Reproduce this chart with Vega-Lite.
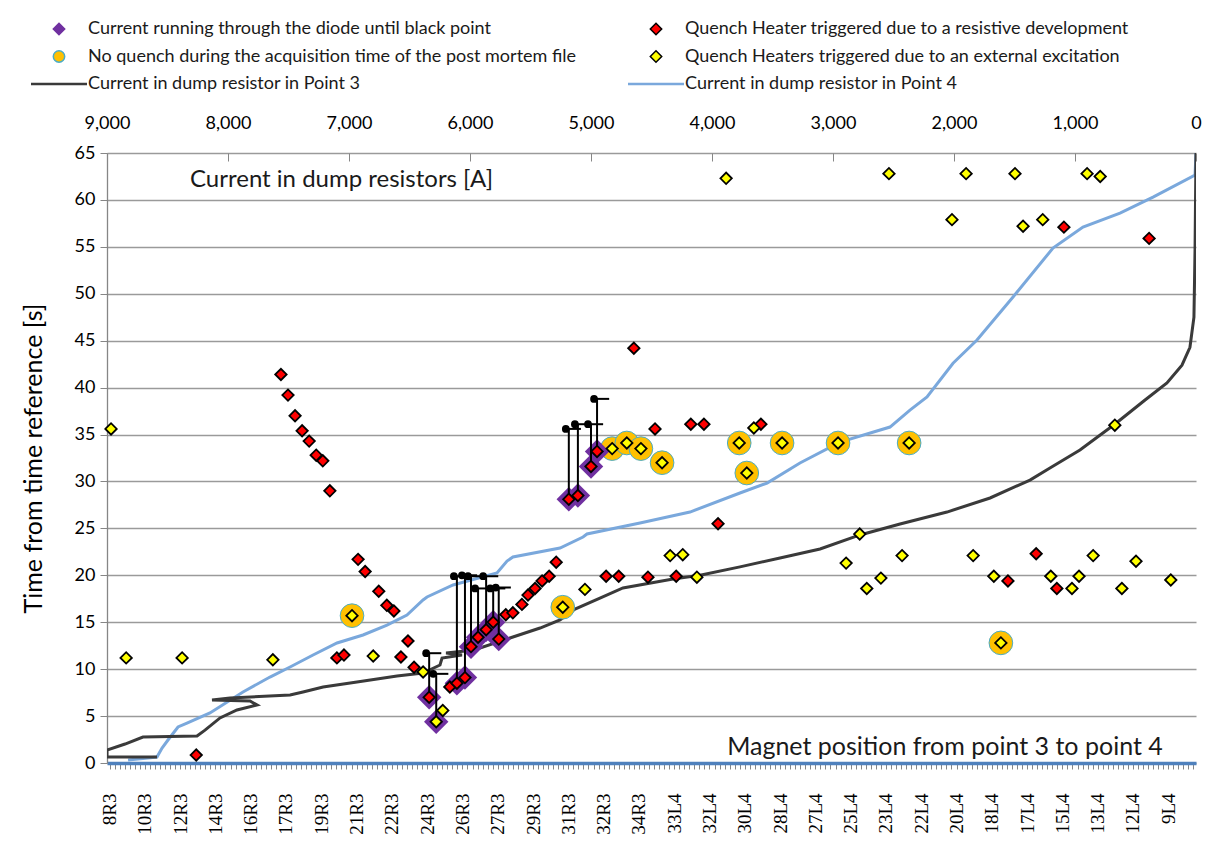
{
  "$schema": "https://vega.github.io/schema/vega-lite/v6.json",
  "width": 1089,
  "height": 610,
  "autosize": {"type": "none"},
  "padding": {"left": 107, "top": 153, "right": 19, "bottom": 87},
  "background": "white",
  "config": {
    "view": {"stroke": null},
    "font": "Lato",
    "axis": {"labelFont": "Lato", "titleFont": "Lato", "labelColor": "#000000", "titleColor": "#000000", "titleFontWeight": "normal"}
  },
  "datasets": {
    "p3": [
      {"i":1,"c":8587,"t":0.64},{"i":2,"c":9000,"t":0.64},{"i":3,"c":9000,"t":1.39},{"i":4,"c":8851,"t":2.02},
      {"i":5,"c":8703,"t":2.77},{"i":6,"c":8256,"t":2.88},{"i":7,"c":8190,"t":3.5},{"i":8,"c":8066,"t":4.8},
      {"i":9,"c":7926,"t":5.65},{"i":10,"c":7760,"t":6.18},{"i":11,"c":7818,"t":6.6},{"i":12,"c":8132,"t":6.71},
      {"i":13,"c":7983,"t":6.93},{"i":14,"c":7487,"t":7.25},{"i":15,"c":7380,"t":7.57},{"i":16,"c":7214,"t":8.1},
      {"i":17,"c":6934,"t":8.63},{"i":18,"c":6603,"t":9.27},{"i":19,"c":6388,"t":9.59},{"i":20,"c":6248,"t":10.44},
      {"i":21,"c":6231,"t":11.19},{"i":22,"c":6066,"t":11.5},{"i":23,"c":6198,"t":11.72},{"i":24,"c":6041,"t":11.93},
      {"i":25,"c":5917,"t":12.25},{"i":26,"c":5645,"t":13.43},{"i":27,"c":5421,"t":14.38},{"i":28,"c":5256,"t":15.24},
      {"i":29,"c":5132,"t":16.4},{"i":30,"c":4926,"t":17.58},{"i":31,"c":4736,"t":18.65},{"i":32,"c":4322,"t":19.6},
      {"i":33,"c":4099,"t":20.0},{"i":34,"c":3769,"t":20.9},{"i":35,"c":3438,"t":21.84},{"i":36,"c":3107,"t":22.8},
      {"i":37,"c":2777,"t":24.3},{"i":38,"c":2446,"t":25.47},{"i":39,"c":2058,"t":26.74},{"i":40,"c":1702,"t":28.24},
      {"i":41,"c":1372,"t":30.15},{"i":42,"c":1207,"t":31.43},{"i":43,"c":959,"t":33.35},{"i":44,"c":669,"t":36.12},
      {"i":45,"c":421,"t":38.68},{"i":46,"c":240,"t":40.5},{"i":47,"c":116,"t":42.4},{"i":48,"c":50,"t":44.3},
      {"i":49,"c":17,"t":47.5},{"i":50,"c":8,"t":54.7},{"i":51,"c":0,"t":65}
    ],
    "p4": [
      {"i":1,"c":8826,"t":0.32},{"i":2,"c":8587,"t":0.64},{"i":3,"c":8545,"t":1.6},{"i":4,"c":8496,"t":2.45},
      {"i":5,"c":8413,"t":3.84},{"i":6,"c":8339,"t":4.26},{"i":7,"c":8149,"t":5.33},{"i":8,"c":7876,"t":7.57},
      {"i":9,"c":7653,"t":9.16},{"i":10,"c":7487,"t":10.23},{"i":11,"c":7297,"t":11.51},{"i":12,"c":7099,"t":12.79},
      {"i":13,"c":6884,"t":13.64},{"i":14,"c":6686,"t":14.7},{"i":15,"c":6521,"t":15.77},{"i":16,"c":6388,"t":17.37},
      {"i":17,"c":6355,"t":17.69},{"i":18,"c":6140,"t":18.97},{"i":19,"c":5777,"t":20.25},{"i":20,"c":5694,"t":21.52},
      {"i":21,"c":5645,"t":21.95},{"i":22,"c":5256,"t":22.9},{"i":23,"c":5066,"t":24.08},{"i":24,"c":5033,"t":24.4},
      {"i":25,"c":4595,"t":25.57},{"i":26,"c":4182,"t":26.74},{"i":27,"c":3769,"t":28.77},{"i":28,"c":3545,"t":29.83},
      {"i":29,"c":3273,"t":31.97},{"i":30,"c":2942,"t":34.2},{"i":31,"c":2529,"t":35.8},{"i":32,"c":2364,"t":37.6},
      {"i":33,"c":2223,"t":39.0},{"i":34,"c":2008,"t":42.6},{"i":35,"c":1810,"t":45.07},{"i":36,"c":1512,"t":49.65},
      {"i":37,"c":1182,"t":54.87},{"i":38,"c":934,"t":57.1},{"i":39,"c":628,"t":58.6},{"i":40,"c":355,"t":60.3},
      {"i":41,"c":8,"t":62.65},{"i":42,"c":0,"t":65}
    ],
    "qh": [
      {"pos":17.2,"t":0.85,"s":"r"},{"pos":34.0,"t":41.4,"s":"r"},{"pos":35.4,"t":39.2,"s":"r"},{"pos":36.8,"t":37.0,"s":"r"},
      {"pos":38.2,"t":35.4,"s":"r"},{"pos":39.6,"t":34.3,"s":"r"},{"pos":41.0,"t":32.8,"s":"r"},{"pos":42.3,"t":32.2,"s":"r"},
      {"pos":43.7,"t":29.0,"s":"r"},{"pos":45.1,"t":11.2,"s":"r"},{"pos":46.5,"t":11.5,"s":"r"},{"pos":49.3,"t":21.7,"s":"r"},
      {"pos":50.7,"t":20.4,"s":"r"},{"pos":53.4,"t":18.3,"s":"r"},{"pos":55.0,"t":16.8,"s":"r"},{"pos":56.4,"t":16.2,"s":"r"},
      {"pos":57.8,"t":11.3,"s":"r"},{"pos":59.2,"t":13.0,"s":"r"},{"pos":60.4,"t":10.2,"s":"r"},{"pos":63.4,"t":7.0,"s":"r"},
      {"pos":67.5,"t":8.1,"s":"r"},{"pos":68.9,"t":8.5,"s":"r"},{"pos":70.5,"t":9.1,"s":"r"},{"pos":71.7,"t":12.4,"s":"r"},
      {"pos":73.1,"t":13.4,"s":"r"},{"pos":74.7,"t":14.2,"s":"r"},{"pos":76.1,"t":15.0,"s":"r"},{"pos":77.2,"t":13.2,"s":"r"},
      {"pos":78.6,"t":15.8,"s":"r"},{"pos":80.0,"t":16.0,"s":"r"},{"pos":81.8,"t":16.9,"s":"r"},{"pos":83.0,"t":17.9,"s":"r"},
      {"pos":84.4,"t":18.6,"s":"r"},{"pos":85.8,"t":19.4,"s":"r"},{"pos":87.2,"t":19.9,"s":"r"},{"pos":88.6,"t":21.4,"s":"r"},
      {"pos":91.1,"t":28.1,"s":"r"},{"pos":92.9,"t":28.5,"s":"r"},{"pos":95.5,"t":31.6,"s":"r"},{"pos":96.7,"t":33.2,"s":"r"},
      {"pos":98.5,"t":19.9,"s":"r"},{"pos":101.0,"t":19.9,"s":"r"},{"pos":104.0,"t":44.2,"s":"r"},{"pos":106.8,"t":19.8,"s":"r"},
      {"pos":108.2,"t":35.6,"s":"r"},{"pos":112.4,"t":19.9,"s":"r"},{"pos":115.3,"t":36.1,"s":"r"},{"pos":117.9,"t":36.1,"s":"r"},
      {"pos":120.7,"t":25.5,"s":"r"},{"pos":129.2,"t":36.1,"s":"r"},{"pos":178.2,"t":19.4,"s":"r"},{"pos":183.8,"t":22.3,"s":"r"},
      {"pos":187.9,"t":18.6,"s":"r"},{"pos":189.3,"t":57.1,"s":"r"},{"pos":206.2,"t":55.9,"s":"r"},
      {"pos":0.3,"t":35.6,"s":"y"},{"pos":3.3,"t":11.2,"s":"y"},{"pos":14.4,"t":11.2,"s":"y"},{"pos":32.4,"t":11.0,"s":"y"},
      {"pos":48.1,"t":15.7,"s":"y"},{"pos":52.3,"t":11.4,"s":"y"},{"pos":62.2,"t":9.7,"s":"y"},{"pos":66.1,"t":5.6,"s":"y"},
      {"pos":64.8,"t":4.4,"s":"y"},{"pos":89.9,"t":16.6,"s":"y"},{"pos":94.3,"t":18.5,"s":"y"},{"pos":99.7,"t":33.5,"s":"y"},
      {"pos":102.6,"t":34.1,"s":"y"},{"pos":105.4,"t":33.5,"s":"y"},{"pos":109.6,"t":32.0,"s":"y"},{"pos":111.2,"t":22.1,"s":"y"},
      {"pos":113.7,"t":22.2,"s":"y"},{"pos":116.5,"t":19.8,"s":"y"},{"pos":122.3,"t":62.3,"s":"y"},{"pos":124.9,"t":34.1,"s":"y"},
      {"pos":126.4,"t":30.9,"s":"y"},{"pos":127.8,"t":35.7,"s":"y"},{"pos":133.4,"t":34.1,"s":"y"},{"pos":144.5,"t":34.1,"s":"y"},
      {"pos":146.1,"t":21.3,"s":"y"},{"pos":148.8,"t":24.4,"s":"y"},{"pos":150.2,"t":18.6,"s":"y"},{"pos":153.0,"t":19.7,"s":"y"},
      {"pos":154.6,"t":62.8,"s":"y"},{"pos":157.2,"t":22.1,"s":"y"},{"pos":158.6,"t":34.1,"s":"y"},{"pos":167.1,"t":57.9,"s":"y"},
      {"pos":169.9,"t":62.8,"s":"y"},{"pos":171.3,"t":22.1,"s":"y"},{"pos":175.4,"t":19.9,"s":"y"},{"pos":176.8,"t":12.8,"s":"y"},
      {"pos":179.6,"t":62.8,"s":"y"},{"pos":181.2,"t":57.2,"s":"y"},{"pos":185.1,"t":57.9,"s":"y"},{"pos":186.7,"t":19.9,"s":"y"},
      {"pos":190.9,"t":18.6,"s":"y"},{"pos":192.3,"t":19.9,"s":"y"},{"pos":193.9,"t":62.8,"s":"y"},{"pos":195.1,"t":22.1,"s":"y"},
      {"pos":196.5,"t":62.5,"s":"y"},{"pos":199.4,"t":36.0,"s":"y"},{"pos":200.8,"t":18.6,"s":"y"},{"pos":203.6,"t":21.5,"s":"y"},
      {"pos":210.5,"t":19.5,"s":"y"}
    ],
    "diode": [
      {"pos":63.4,"t":7.0,"tEnd":11.7},{"pos":64.8,"t":4.4,"tEnd":9.5},{"pos":68.9,"t":8.5,"tEnd":19.9},
      {"pos":70.5,"t":9.1,"tEnd":20.0},{"pos":71.7,"t":12.4,"tEnd":19.9},{"pos":73.1,"t":13.4,"tEnd":18.6},
      {"pos":74.7,"t":14.2,"tEnd":19.9},{"pos":76.1,"t":15.0,"tEnd":18.6},{"pos":77.2,"t":13.2,"tEnd":18.7},
      {"pos":91.1,"t":28.1,"tEnd":35.6},{"pos":92.9,"t":28.5,"tEnd":36.1},{"pos":95.5,"t":31.6,"tEnd":36.1},
      {"pos":96.7,"t":33.2,"tEnd":38.8}
    ],
    "noquench": [
      {"pos":48.1,"t":15.7},{"pos":89.9,"t":16.6},{"pos":99.7,"t":33.5},{"pos":102.6,"t":34.1},
      {"pos":105.4,"t":33.5},{"pos":109.6,"t":32.0},{"pos":124.9,"t":34.1},{"pos":126.4,"t":30.9},
      {"pos":133.4,"t":34.1},{"pos":144.5,"t":34.1},{"pos":158.6,"t":34.1},{"pos":176.8,"t":12.8}
    ],
    "annTop": [{"c":8314,"t":62.1,"label":"Current in dump resistors [A]"}],
    "annBottom": [{"pos":122.5,"t":1.7,"label":"Magnet position from point 3 to point 4"}]
  },
  "layer": [
    {
      "layer": [
        {
          "data": {"name": "p4"},
          "mark": {"type": "line", "color": "#7aa8dc", "strokeWidth": 3, "clip": true},
          "encoding": {
            "x": {"field": "c", "type": "quantitative",
              "scale": {"domain": [0, 9000], "reverse": true, "nice": false, "zero": false},
              "axis": {"orient": "top", "values": [0,1000,2000,3000,4000,5000,6000,7000,8000,9000],
                "labelExpr": "format(datum.value, ',')",
                "title": null, "grid": false, "domain": false, "tickSize": -8, "tickColor": "#868686", "tickWidth": 1,
                "labelPadding": 29, "labelFontSize": 18, "labelFont": "Lato", "labelColor": "#000000", "labelFlush": false}},
            "y": {"field": "t", "type": "quantitative",
              "scale": {"domain": [0, 65], "nice": false, "zero": false},
              "axis": {"title": "Time from time reference [s]", "values": [0,5,10,15,20,25,30,35,40,45,50,55,60,65],
                "grid": true, "gridColor": "#9a9a9a", "gridWidth": 1.3, "tickSize": 7, "tickColor": "#868686",
                "domainColor": "#868686", "domainWidth": 1.3, "labelFontSize": 18, "labelPadding": 5,
                "titleFontSize": 25, "titlePadding": 28, "labelFlush": false}},
            "order": {"field": "i", "type": "quantitative"}
          }
        },
        {
          "data": {"name": "p3"},
          "mark": {"type": "line", "color": "#3a3a3a", "strokeWidth": 3, "clip": true},
          "encoding": {
            "x": {"field": "c", "type": "quantitative"},
            "y": {"field": "t", "type": "quantitative"},
            "order": {"field": "i", "type": "quantitative"}
          }
        },
        {
          "data": {"name": "annTop"},
          "mark": {"type": "text", "align": "left", "baseline": "middle", "fontSize": 24, "font": "Lato", "color": "#1a1a1a"},
          "encoding": {
            "x": {"field": "c", "type": "quantitative"},
            "y": {"field": "t", "type": "quantitative"},
            "text": {"field": "label"}
          }
        }
      ]
    },
    {
      "layer": [
        {
          "data": {"name": "noquench"},
          "mark": {"type": "point", "shape": "circle", "filled": true, "size": 560, "color": "#ffc000", "stroke": "#4bacc6", "strokeWidth": 1, "opacity": 1},
          "encoding": {
            "x": {"field": "pos", "type": "quantitative",
              "scale": {"domain": [-0.5, 215.5], "nice": false, "zero": false},
              "axis": {"orient": "bottom", "title": null, "tickCount": 216, "grid": false,
                "labelExpr": "datum.value % 7 == 0 ? ['8R3','10R3','12R3','14R3','16R3','17R3','19R3','21R3','22R3','24R3','26R3','27R3','29R3','31R3','32R3','34R3','33L4','32L4','30L4','28L4','27L4','25L4','23L4','22L4','20L4','18L4','17L4','15L4','13L4','12L4','9L4'][datum.value / 7] : ''",
                "labelAngle": -90, "labelAlign": "right", "labelBaseline": "middle",
                "labelFont": "Liberation Serif", "labelFontSize": 19, "labelPadding": 24,
                "labelOverlap": false, "labelFlush": false, "labelBound": false,
                "tickSize": 6, "tickColor": "#868686", "tickWidth": 1,
                "domainColor": "#4f81bd", "domainWidth": 3.5}},
            "y": {"field": "t", "type": "quantitative"}
          }
        },
        {
          "data": {"name": "diode"},
          "mark": {"type": "point", "shape": "diamond", "filled": true, "size": 600, "color": "#7030a0", "opacity": 1},
          "encoding": {
            "x": {"field": "pos", "type": "quantitative"},
            "y": {"field": "t", "type": "quantitative"}
          }
        },
        {
          "data": {"name": "diode"},
          "mark": {"type": "rule", "color": "#000000", "strokeWidth": 2},
          "encoding": {
            "x": {"field": "pos", "type": "quantitative"},
            "y": {"field": "t", "type": "quantitative"},
            "y2": {"field": "tEnd"}
          }
        },
        {
          "data": {"name": "diode"},
          "mark": {"type": "point", "shape": "stroke", "size": 150, "color": "#000000", "strokeWidth": 2, "xOffset": 6, "opacity": 1},
          "encoding": {
            "x": {"field": "pos", "type": "quantitative"},
            "y": {"field": "tEnd", "type": "quantitative"}
          }
        },
        {
          "data": {"name": "diode"},
          "mark": {"type": "point", "shape": "circle", "filled": true, "size": 60, "color": "#000000", "xOffset": -3, "opacity": 1},
          "encoding": {
            "x": {"field": "pos", "type": "quantitative"},
            "y": {"field": "tEnd", "type": "quantitative"}
          }
        },
        {
          "data": {"name": "qh"},
          "mark": {"type": "point", "shape": "diamond", "filled": true, "size": 130, "stroke": "#000000", "strokeWidth": 1.8, "opacity": 1},
          "encoding": {
            "x": {"field": "pos", "type": "quantitative"},
            "y": {"field": "t", "type": "quantitative"},
            "color": {"field": "s", "type": "nominal",
              "scale": {"domain": ["d", "r", "n", "y", "p3", "p4"], "range": ["#7030a0", "#ff0000", "#ffc000", "#ffff00", "#3a3a3a", "#7aa8dc"]},
              "legend": {
                "title": null, "orient": "none", "legendX": -76, "legendY": -133, "columns": 2, "direction": "horizontal",
                "columnPadding": 46, "rowPadding": 9.5, "symbolSize": 3136, "symbolType": "stroke", "symbolStrokeWidth": 2.5,
                "symbolOffset": 19, "labelOffset": 20,
                "symbolOpacity": 1, "labelFont": "Lato", "labelFontSize": 18, "labelColor": "#1a1a1a", "labelLimit": 700,
                "labelExpr": "['Current running through the diode until black point','Quench Heater triggered due to a resistive development','No quench during the acquisition time of the post mortem file','Quench Heaters triggered due to an external excitation','Current in dump resistor in Point 3','Current in dump resistor in Point 4'][indexof(['d','r','n','y','p3','p4'], datum.value)]",
                "encoding": {
                  "symbols": {
                    "shape": {"value": {"expr": "indexof(['p3','p4'], datum.value) >= 0 ? 'stroke' : (datum.value == 'n' ? 'circle' : 'diamond')"}},
                    "size": {"value": {"expr": "indexof(['p3','p4'], datum.value) >= 0 ? 3136 : 130"}},
                    "fill": {"value": {"expr": "datum.value == 'd' ? '#7030a0' : datum.value == 'r' ? '#ff0000' : datum.value == 'n' ? '#ffc000' : datum.value == 'y' ? '#ffff00' : 'transparent'"}},
                    "stroke": {"value": {"expr": "datum.value == 'p3' ? '#3a3a3a' : datum.value == 'p4' ? '#7aa8dc' : datum.value == 'n' ? '#4bacc6' : datum.value == 'd' ? '#7030a0' : '#000000'"}},
                    "strokeWidth": {"value": {"expr": "indexof(['p3','p4'], datum.value) >= 0 ? 2.5 : 1.5"}},
                    "opacity": {"value": 1}
                  }
                }
              }
            }
          }
        },
        {
          "data": {"name": "annBottom"},
          "mark": {"type": "text", "align": "left", "baseline": "middle", "fontSize": 25, "font": "Lato", "color": "#1a1a1a"},
          "encoding": {
            "x": {"field": "pos", "type": "quantitative"},
            "y": {"field": "t", "type": "quantitative"},
            "text": {"field": "label"}
          }
        }
      ]
    }
  ],
  "resolve": {"scale": {"x": "independent"}, "axis": {"x": "independent"}}
}
